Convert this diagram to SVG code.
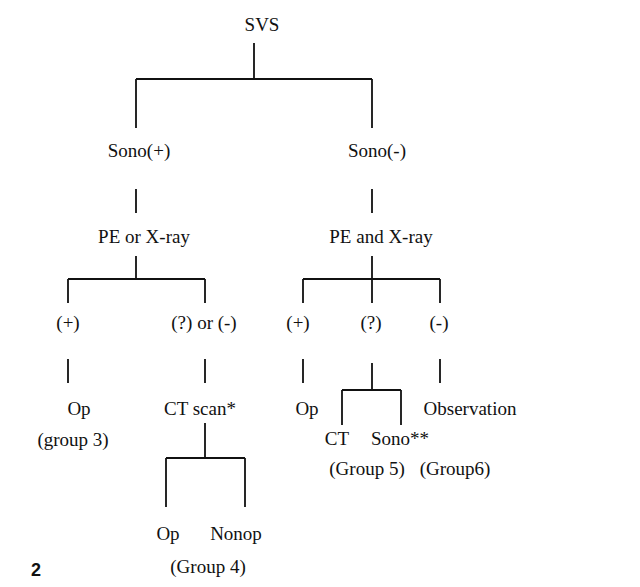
<svg xmlns="http://www.w3.org/2000/svg" width="640" height="587" viewBox="0 0 640 587">
<style>
text{font-family:"Liberation Serif","Times New Roman",serif;font-size:19px;fill:#111;text-anchor:middle}
.num{font-family:"Liberation Sans",Arial,sans-serif;font-weight:bold;font-size:18px;text-anchor:start}
.c{stroke:#111;stroke-width:1.8;fill:none}
</style>
<rect width="640" height="587" fill="#fff"/>
<g id="connectors" class="c">
<path d="M254 43V79M136 79H372M136 79V128M372 79V128"/>
<path d="M136 189V213M372 189V213"/>
<path d="M136 256V279M68 279H205M68 279V303M205 279V303"/>
<path d="M372 256V303M303 279H440M303 279V303M440 279V303"/>
<path d="M68 359V383M205 359V383M303 359V383M440 359V383"/>
<path d="M372 363V390M342 390H401M342 390V425M401 390V425"/>
<path d="M205 423V458M166 458H245M166 458V507M245 458V507"/>
</g>
<g id="n-svs"><text x="262" y="31">SVS</text></g>
<g id="n-sonopos"><text x="139" y="157">Sono(+)</text></g>
<g id="n-sononeg"><text x="377" y="157">Sono(-)</text></g>
<g id="n-peorx"><text x="144" y="243">PE or X-ray</text></g>
<g id="n-peandx"><text x="381" y="243">PE and X-ray</text></g>
<g id="n-lpos"><text x="68" y="329">(+)</text></g>
<g id="n-lqneg"><text x="204" y="329">(?) or (-)</text></g>
<g id="n-rpos"><text x="298" y="329">(+)</text></g>
<g id="n-rq"><text x="371" y="329">(?)</text></g>
<g id="n-rneg"><text x="439" y="329">(-)</text></g>
<g id="n-op1"><text x="79" y="415">Op</text><text x="73" y="446">(group 3)</text></g>
<g id="n-ctscan"><text x="200" y="415">CT scan*</text></g>
<g id="n-op2"><text x="307" y="415">Op</text></g>
<g id="n-obs"><text x="470" y="415">Observation</text><text x="455" y="475">(Group6)</text></g>
<g id="n-ct"><text x="337" y="445">CT</text></g>
<g id="n-sono2"><text x="400" y="445">Sono**</text></g>
<g id="n-g5"><text x="367" y="475">(Group 5)</text></g>
<g id="n-op3"><text x="168" y="540">Op</text></g>
<g id="n-nonop"><text x="236" y="540">Nonop</text></g>
<g id="n-g4"><text x="208" y="573">(Group 4)</text></g>
<text class="num" x="31" y="576">2</text>
</svg>
